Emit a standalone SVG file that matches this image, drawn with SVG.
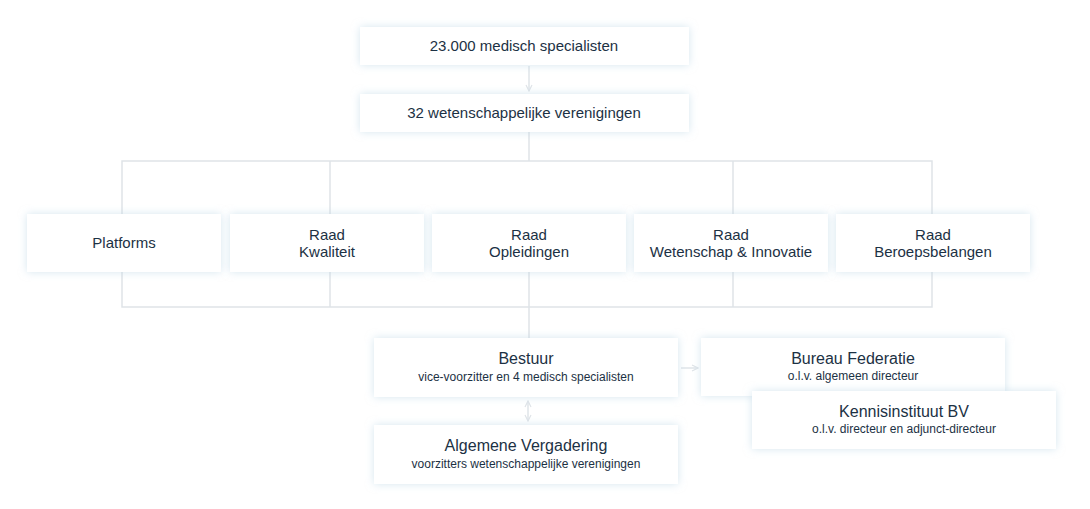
<svg xmlns="http://www.w3.org/2000/svg" width="1090" height="509" viewBox="0 0 1090 509">
<style>
.b{fill:#fff;filter:url(#sh)}
.t{font-family:"Liberation Sans",Arial,sans-serif;fill:#1c3144;text-anchor:middle;font-size:15px}
.s{font-size:12px}
.c{stroke:#dfe4e8;stroke-width:1.5;fill:none}
</style>
<defs>
<filter id="sh" x="-20%" y="-40%" width="140%" height="180%"><feDropShadow dx="0" dy="0" stdDeviation="4" flood-color="#b9d4e4" flood-opacity="0.6"/></filter>
<marker id="a" markerWidth="8" markerHeight="8" refX="7" refY="4" orient="auto-start-reverse" markerUnits="userSpaceOnUse"><path d="M1,1 L7,4 L1,7" fill="none" stroke="#dfe4e8" stroke-width="1.2"/></marker>
</defs>
<rect width="1090" height="509" fill="#fff"/>
<g id="connectors">
<line class="c" x1="529" y1="66" x2="529" y2="91" marker-end="url(#a)"/>
<path class="c" d="M529 132V161M122 214V161H932V214M330 161V214M733 161V214"/>
<path class="c" d="M122 272V307H932V272M330 272V307M733 272V307M529 272V338"/>
<line class="c" x1="681" y1="368" x2="698" y2="368" marker-end="url(#a)"/>
<line class="c" x1="528" y1="401" x2="528" y2="421" marker-start="url(#a)" marker-end="url(#a)"/>
</g>
<g id="n1"><rect class="b" x="360" y="27" width="329" height="38"/><text class="t" x="524" y="51">23.000 medisch specialisten</text></g>
<g id="n2"><rect class="b" x="360" y="94" width="329" height="38"/><text class="t" x="524" y="118">32 wetenschappelijke verenigingen</text></g>
<g id="n3"><rect class="b" x="27" y="214" width="194" height="58"/><text class="t" x="124" y="248">Platforms</text></g>
<g id="n4"><rect class="b" x="230" y="214" width="194" height="58"/><text class="t" x="327" y="240">Raad</text><text class="t" x="327" y="257">Kwaliteit</text></g>
<g id="n5"><rect class="b" x="432" y="214" width="194" height="58"/><text class="t" x="529" y="240">Raad</text><text class="t" x="529" y="257">Opleidingen</text></g>
<g id="n6"><rect class="b" x="634" y="214" width="194" height="58"/><text class="t" x="731" y="240">Raad</text><text class="t" x="731" y="257">Wetenschap &amp; Innovatie</text></g>
<g id="n7"><rect class="b" x="836" y="214" width="194" height="58"/><text class="t" x="933" y="240">Raad</text><text class="t" x="933" y="257">Beroepsbelangen</text></g>
<g id="n8"><rect class="b" x="374" y="338" width="304" height="59"/><text class="t" x="526" y="364" style="font-size:16px">Bestuur</text><text class="t s" x="526" y="381">vice-voorzitter en 4 medisch specialisten</text></g>
<g id="n9"><rect class="b" x="374" y="425" width="304" height="59"/><text class="t" x="526" y="451" style="font-size:16px">Algemene Vergadering</text><text class="t s" x="526" y="468">voorzitters wetenschappelijke verenigingen</text></g>
<g id="n10"><rect class="b" x="701" y="338" width="304" height="58"/><text class="t" x="853" y="364" style="font-size:16px">Bureau Federatie</text><text class="t s" x="853" y="380">o.l.v. algemeen directeur</text></g>
<g id="n11"><rect class="b" x="752" y="391" width="304" height="58"/><text class="t" x="904" y="417" style="font-size:16px">Kennisinstituut BV</text><text class="t s" x="904" y="433">o.l.v. directeur en adjunct-directeur</text></g>
</svg>
